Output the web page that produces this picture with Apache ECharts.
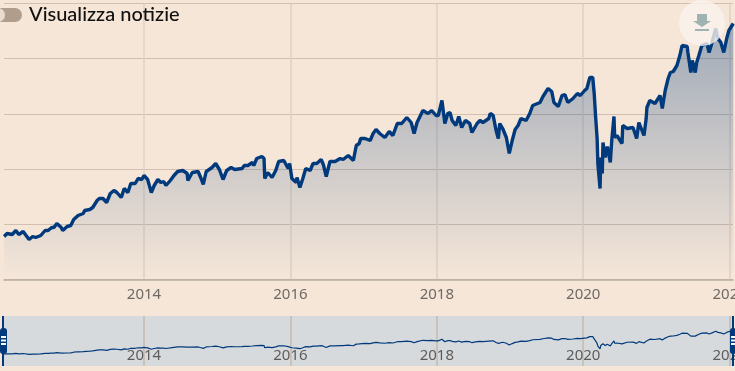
<!DOCTYPE html>
<html><head><meta charset="utf-8">
<style>html,body{margin:0;padding:0;background:#f5e6d8;overflow:hidden}#c{width:735px;height:371px}</style>
<script src="https://cdn.jsdelivr.net/npm/echarts@6/dist/echarts.min.js"></script>
</head><body><div id="c"></div>
<script>
const tickYears = [2014, 2016, 2018, 2020, 2022];
const years = [
2012.09,2012.13,2012.20,2012.25,2012.29,2012.35,2012.37,2012.43,2012.48,2012.52,
2012.59,2012.65,2012.69,2012.74,2012.77,2012.81,2012.87,2012.89,2012.95,2013.00,
2013.04,2013.10,2013.17,2013.19,2013.26,2013.30,2013.36,2013.39,2013.44,2013.49,
2013.54,2013.59,2013.63,2013.69,2013.73,2013.78,2013.82,2013.88,2013.92,2013.97,
2014.00,2014.05,2014.10,2014.14,2014.19,2014.23,2014.27,2014.30,2014.36,2014.41,
2014.46,2014.53,2014.59,2014.60,2014.66,2014.74,2014.78,2014.81,2014.85,2014.93,
2014.98,2015.03,2015.08,2015.13,2015.19,2015.24,2015.34,2015.37,2015.42,2015.48,
2015.50,2015.54,2015.61,2015.64,2015.65,2015.69,2015.75,2015.80,2015.84,2015.91,
2015.97,2015.99,2016.02,2016.08,2016.09,2016.13,2016.17,2016.21,2016.27,2016.31,
2016.36,2016.42,2016.45,2016.49,2016.54,2016.61,2016.68,2016.72,2016.79,2016.86,
2016.90,2016.94,2016.96,2017.02,2017.09,2017.13,2017.17,2017.22,2017.29,2017.35,
2017.40,2017.46,2017.52,2017.59,2017.65,2017.69,2017.73,2017.81,2017.88,2017.93,
2017.99,2018.02,2018.07,2018.11,2018.15,2018.18,2018.21,2018.26,2018.30,2018.34,
2018.39,2018.45,2018.48,2018.55,2018.59,2018.63,2018.71,2018.73,2018.77,2018.81,
2018.84,2018.86,2018.90,2018.95,2018.99,2019.03,2019.07,2019.11,2019.15,2019.22,
2019.27,2019.31,2019.41,2019.45,2019.52,2019.57,2019.60,2019.66,2019.71,2019.75,
2019.79,2019.86,2019.92,2019.96,2020.02,2020.05,2020.09,2020.13,2020.15,2020.17,
2020.19,2020.20,2020.23,2020.24,2020.26,2020.27,2020.30,2020.33,2020.37,2020.39,
2020.42,2020.43,2020.46,2020.53,2020.54,2020.60,2020.68,2020.73,2020.76,2020.83,
2020.86,2020.87,2020.91,2020.98,2021.05,2021.08,2021.12,2021.16,2021.19,2021.23,
2021.28,2021.32,2021.35,2021.42,2021.43,2021.47,2021.49,2021.53,2021.55,2021.58,
2021.62,2021.69,2021.72,2021.76,2021.81,2021.84,2021.88,2021.92,2021.96,2021.99,
2022.05];
const values = [
43,46,45,49,45,48,46,40,43,42,
44,49,49,52,52,56,52,49,53,54,
60,64,66,69,70,72,79,81,81,77,
86,89,87,82,91,87,96,96,101,100,
104,100,87,94,100,97,98,94,99,104,
108,109,106,99,107,108,101,95,108,112,
116,110,100,109,112,110,111,114,114,117,
114,121,123,121,101,107,102,109,118,119,
111,116,101,97,102,92,101,111,109,116,
116,120,115,103,118,118,121,120,124,119,
134,136,141,141,139,146,150,146,142,148,
144,156,156,162,157,146,157,169,166,169,
164,164,179,156,166,167,159,154,163,152,
159,156,147,156,159,157,161,166,164,149,
141,156,151,142,126,139,150,154,161,159,
166,174,177,183,191,188,177,173,184,185,
177,181,186,184,189,191,202,202,186,162,
141,116,91,122,106,137,122,133,117,139,
163,142,144,136,154,151,152,141,157,144,
161,172,179,176,184,171,189,201,207,208,
214,224,234,233,227,207,219,207,217,224,
234,236,227,237,251,241,237,227,241,249,
256];
const xMin = 2012.088, xMax = 2022.046;
const bg = '#f5e6d8', navy = '#003a7d';
const points = years.map((y, i) => [y, values[i]]);
const handle = (x, rx, rw) => [
  {type:'rect', shape:{x:x-1, y:316, width:2, height:50}, style:{fill:navy}, z:50},
  {type:'rect', shape:{x:rx, y:328, width:rw, height:26, r:3}, style:{fill:navy}, z:50},
  ...[337,340.5,344].map(l => ({type:'rect', shape:{x:rx+1, y:l-1, width:rw-2, height:2}, style:{fill:'#fff'}, z:51}))
];
const chart = echarts.init(document.getElementById('c'), null, {renderer:'canvas'});
chart.setOption({
  animation:false,
  backgroundColor:bg,
  grid:[
    {left:4, width:729, top:3.5, height:276, outerBoundsMode:'none'},
    {left:4, width:729, top:316, height:50, show:true, backgroundColor:'#d7dadd', borderWidth:0, outerBoundsMode:'none'}
  ],
  xAxis:[
    {gridIndex:0, type:'value', min:xMin, max:xMax,
     axisLine:{show:true, onZero:false, lineStyle:{color:'#b5aea5', width:1.5}},
     axisTick:{show:false, customValues:tickYears},
     axisLabel:{customValues:tickYears, formatter:v=>String(v), color:'#6f6964', fontFamily:'Noto Sans', fontSize:15, margin:8},
     splitLine:{show:true, lineStyle:{color:'#e0d1c3', width:1.5}}},
    {gridIndex:1, type:'value', min:xMin, max:xMax,
     axisLine:{show:false},
     axisTick:{show:false, customValues:tickYears},
     axisLabel:{customValues:tickYears, formatter:v=>String(v), inside:true, color:'#5e5c5b', fontFamily:'Noto Sans', fontSize:15, margin:3},
     splitLine:{show:true, lineStyle:{color:'#c8c2bb', width:2}}}
  ],
  yAxis:[
    {gridIndex:0, type:'value', min:0, max:276, interval:55.2,
     axisLine:{show:false}, axisTick:{show:false}, axisLabel:{show:false},
     splitLine:{show:true, lineStyle:{color:'#d2bfb0', width:1.2}}},
    {gridIndex:1, type:'value', min:-66, max:391,
     axisLine:{show:false}, axisTick:{show:false}, axisLabel:{show:false}, splitLine:{show:false}}
  ],
  series:[
    {type:'line', xAxisIndex:0, yAxisIndex:0, data:points, showSymbol:false, silent:true, clip:true,
     lineStyle:{color:navy, width:3.4, join:'bevel'},
     areaStyle:{color:new echarts.graphic.LinearGradient(0,0,0,1,[{offset:0,color:'rgba(0,58,125,0.5)'},{offset:1,color:'rgba(0,58,125,0)'}])}},
    {type:'line', xAxisIndex:1, yAxisIndex:1, data:points, showSymbol:false, silent:true,
     lineStyle:{color:navy, width:1.2}}
  ],
  graphic:[
    {type:'rect', shape:{x:-8, y:8, width:30, height:14, r:7}, style:{fill:'#b09d8c'}, z:40},
    {type:'circle', shape:{cx:-2, cy:15, r:7}, style:{fill:'#e9dccf'}, z:41},
    {type:'text', x:29, y:15, style:{text:'Visualizza notizie', fill:'#111', font:'500 20px Lato, "Noto Sans", sans-serif', textVerticalAlign:'middle'}, z:41},
    {type:'circle', shape:{cx:702, cy:23, r:23}, style:{fill:'rgba(250,243,237,0.8)'}, z:42},
    {type:'polygon', shape:{points:[[697,14],[707,14],[707,21],[711,21],[702,27],[693,21],[697,21]]}, style:{fill:'#9fb3b3'}, z:43},
    {type:'rect', shape:{x:695, y:29, width:14, height:2}, style:{fill:'#9fb3b3'}, z:43},
    ...handle(3, 0, 7),
    ...handle(733, 730, 6)
  ]
});
</script></body></html>
